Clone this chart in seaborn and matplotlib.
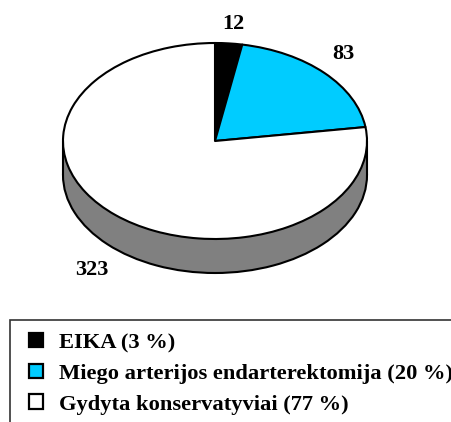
import matplotlib
matplotlib.use("Agg")
import matplotlib.pyplot as plt
import seaborn as sns
from matplotlib.patches import Patch, Rectangle

categories = ["EIKA (3 %)", "Miego arterijos endarterektomija (20 %)", "Gydyta konservatyviai (77 %)"]
counts = [12, 83, 323]
colors = ["#000000", "#00ccff", "#ffffff"]

W, H = 452, 422
CX, CY = 215, 141      # pie centre, pixels
RX, RY = 152, 98       # ellipse radii
DEPTH = 34 / RY        # height of the side wall
EDGE = "#000000"
WALL = "#808080"


def main():
    sns.set_theme(style="white")
    plt.rcParams["font.family"] = ["Liberation Serif", "DejaVu Serif"]
    plt.rcParams["font.weight"] = "bold"

    fig = plt.figure(figsize=(W / 100, H / 100), dpi=100, facecolor="white")
    ax = fig.add_axes([0, 0, 1, 1])

    # Side wall: a grey pie lower down, with a band between it and the top
    wall, _ = ax.pie([sum(counts)], colors=[WALL], center=(0, -DEPTH), frame=True,
                     wedgeprops={"edgecolor": EDGE, "linewidth": 1.5})
    wall[0].set_zorder(0.5)
    ax.add_patch(Rectangle((-1, -DEPTH), 2, DEPTH, facecolor=WALL, edgecolor="none", zorder=0.6))
    for side in (-1, 1):
        ax.plot([side, side], [-DEPTH, 0], color=EDGE, lw=1.5, zorder=0.7)

    # Top of the pie, clockwise from 12 o'clock
    ax.pie(counts, colors=colors, startangle=90, counterclock=False, frame=True,
           wedgeprops={"edgecolor": EDGE, "linewidth": 1.5, "joinstyle": "round"})

    # pie() forces an equal aspect, squash it back to the ellipse
    ax.set_aspect("auto")
    ax.set_xlim(-CX / RX, (W - CX) / RX)
    ax.set_ylim((CY - H) / RY, CY / RY)
    ax.axis("off")

    # Value labels
    label_pos = [(233, 24), (343, 54), (92, 270)]
    for value, (x, y) in zip(counts, label_pos):
        fig.text(x / W, 1 - y / H, str(value), ha="center", va="center",
                 fontsize=16, fontweight="bold", color="black")

    # Legend box runs off the right and bottom of the picture
    fig.add_artist(Rectangle((10 / W, -0.05), 1.0, 1 - 319.5 / H + 0.05, transform=fig.transFigure,
                             facecolor="none", edgecolor="#333333", linewidth=1.2))
    handles = [Patch(facecolor=c, edgecolor=EDGE, linewidth=1.6) for c in colors]
    fig.legend(handles, categories, loc="upper left", bbox_to_anchor=(29 / W, 1 - 333 / H),
               borderaxespad=0, borderpad=0, frameon=False, labelcolor="black",
               handlelength=0.61, handleheight=0.61, handletextpad=0.72, labelspacing=0.47,
               prop={"family": "Liberation Serif", "weight": "bold", "size": 16.2})

    fig.savefig("out.png", dpi=100)
    plt.close(fig)


if __name__ == "__main__":
    main()
